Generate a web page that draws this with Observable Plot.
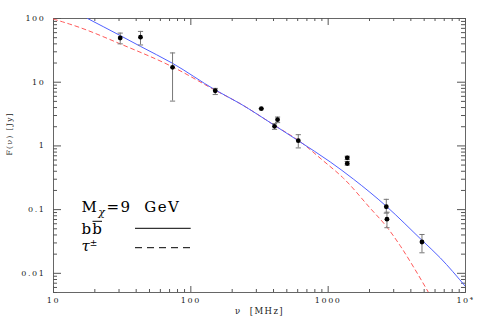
<!DOCTYPE html>
<html>
<head>
<meta charset="utf-8">
<script src="https://cdn.jsdelivr.net/npm/d3@7"></script>
<script src="https://cdn.jsdelivr.net/npm/@observablehq/plot@0.6"></script>
<style>
  html, body { margin: 0; padding: 0; background: #fff; }
  g[aria-label$="tick label"] text { letter-spacing: 1.6px; }
</style>
</head>
<body>
<div id="chart"></div>
<script>
// Observed fluxes (MHz, Jy) with error bounds
const obsFreq = [30.6, 43, 73.6, 150.6, 326, 407, 428, 606, 1377, 1377, 2650, 2680, 4820];
const obsFlux = [49.4, 51, 17.1, 7.34, 3.84, 2.03, 2.58, 1.21, 0.65, 0.53, 0.111, 0.0708, 0.031];
const obsLow  = [40, 38.4, 5.05, 6.4, 3.84, 1.82, 2.32, 0.93, 0.61, 0.50, 0.088, 0.052, 0.021];
const obsHigh = [59, 62.7, 28.8, 8.0, 3.84, 2.24, 2.84, 1.5, 0.69, 0.57, 0.145, 0.091, 0.0407];

// b b-bar model (solid blue)
const bbFreq = [17.7, 30.6, 43, 73.6, 150, 229, 407, 608, 1036, 1531, 2650, 4820, 6550, 10000];
const bbFlux = [100, 54, 36.5, 19.8, 7.6, 4.6, 2.1, 1.2, 0.56, 0.30, 0.113, 0.033, 0.0175, 0.0062];

// tau+- model (dashed red)
const tauFreq = [10, 15.6, 30.6, 73.6, 150, 229, 407, 627, 925, 1294, 2026, 2681, 3350, 4190, 5380];
const tauFlux = [98, 72, 40, 17.4, 7.5, 4.6, 2.1, 1.16, 0.58, 0.31, 0.105, 0.053, 0.027, 0.0125, 0.005];

// Axis ticks
const xTickVals = [10, 100, 1000, 10000];
const xTickLabels = ["10", "100", "1000", "10\u2074"];
const yTickVals = [0.01, 0.1, 1, 10, 100];
const yTickLabels = ["0.01", "0.1", "1", "10", "100"];

const xMinor = [];
for (let k = 1; k <= 3; k++) for (let m = 2; m <= 9; m++) xMinor.push(m * 10 ** k);
const yMinor = [];
for (let k = -3; k <= 1; k++) for (let m = 2; m <= 9; m++) {
  const v = +(m * 10 ** k).toPrecision(3);
  if (v >= 0.005 && v <= 100) yMinor.push(v);
}

const obs = obsFreq.map((f, i) => ({f, v: obsFlux[i], lo: obsLow[i], hi: obsHigh[i]}));
const bb = bbFreq.map((f, i) => ({f, v: bbFlux[i]}));
const tau = tauFreq.map((f, i) => ({f, v: tauFlux[i]}));

const W = 491, H = 327, mL = 53, mR = 26, mT = 18, mB = 35;
const pw = W - mL - mR, ph = H - mT - mB;
const tickColor = "#555";

const capSymbol = {
  draw(ctx) { ctx.moveTo(-2.6, 0); ctx.lineTo(2.6, 0); }
};

const plot = Plot.plot({
  width: W, height: H,
  marginLeft: mL, marginRight: mR, marginTop: mT, marginBottom: mB,
  style: {fontFamily: "DejaVu Serif", fontSize: "8px", background: "white", color: "#222"},
  x: {type: "log", domain: [10, 1e4]},
  y: {type: "log", domain: [0.005, 100]},
  marks: [
    Plot.frame({stroke: "#666", strokeWidth: 1}),
    // inward ticks, all four sides
    Plot.tickY(yTickVals, {y: d => d, insetRight: pw - 8, stroke: tickColor}),
    Plot.tickY(yMinor, {y: d => d, insetRight: pw - 4, stroke: tickColor}),
    Plot.tickY(yTickVals, {y: d => d, insetLeft: pw - 8, stroke: tickColor}),
    Plot.tickY(yMinor, {y: d => d, insetLeft: pw - 4, stroke: tickColor}),
    Plot.tickX(xTickVals, {x: d => d, insetTop: ph - 6, stroke: tickColor}),
    Plot.tickX(xMinor, {x: d => d, insetTop: ph - 3, stroke: tickColor}),
    Plot.tickX(xTickVals, {x: d => d, insetBottom: ph - 7, stroke: tickColor}),
    Plot.tickX(xMinor, {x: d => d, insetBottom: ph - 3, stroke: tickColor}),
    Plot.axisY({anchor: "left", ticks: yTickVals, tickSize: 0, tickPadding: 8,
      tickFormat: d => yTickLabels[yTickVals.indexOf(d)], label: null}),
    Plot.axisX({anchor: "bottom", ticks: xTickVals, tickSize: 0, tickPadding: 5,
      tickFormat: d => xTickLabels[xTickVals.indexOf(d)], label: null}),
    // model curves
    Plot.line(tau, {x: "f", y: "v", stroke: "#ff5a5a", strokeWidth: 1, strokeDasharray: "4,3.5", curve: "monotone-x", clip: true}),
    Plot.line(bb, {x: "f", y: "v", stroke: "#5060ff", strokeWidth: 1, curve: "monotone-x", clip: true}),
    // error bars
    Plot.ruleX(obs, {x: "f", y1: "lo", y2: "hi", stroke: "#777", strokeWidth: 1}),
    Plot.dot(obs, {x: "f", y: "lo", symbol: capSymbol, stroke: "#777", fill: "none", strokeWidth: 1}),
    Plot.dot(obs, {x: "f", y: "hi", symbol: capSymbol, stroke: "#777", fill: "none", strokeWidth: 1}),
    Plot.dot(obs, {x: "f", y: "v", r: 2.4, fill: "black", stroke: "none"}),
    // axis titles
    Plot.text(["\u03bd  [MHz]"], {frameAnchor: "bottom", dy: 21, text: d => d, fontSize: 8.5, fill: "#222"}),
    Plot.text(["F(\u03bd) [Jy]"], {frameAnchor: "left", dx: -44, rotate: -90, text: d => d, fontSize: 7.5, fill: "#222"})
  ]
});

// legend
const svg = d3.select(plot);
svg.selectAll('g[aria-label="text"] text').style("letter-spacing", "1.4px").style("white-space", "pre");
const lg = svg.append("g").attr("font-family", "DejaVu Serif").attr("fill", "black")
  .attr("text-anchor", "start");
const t1 = lg.append("text").attr("x", 81.5).attr("y", 211.7).attr("font-size", 15)
  .style("white-space", "pre").style("letter-spacing", "1.5px");
t1.append("tspan").text("M");
t1.append("tspan").attr("font-size", 11).attr("font-style", "italic").attr("dy", 4).text("\u03c7");
t1.append("tspan").attr("dy", -4).text("=9  GeV");
const t2 = lg.append("text").attr("x", 81.5).attr("y", 233.8).attr("font-size", 15)
  .style("letter-spacing", "1.2px").text("bb");
lg.append("line").attr("x1", 92.5).attr("x2", 102).attr("y1", 221.3).attr("y2", 221.3)
  .attr("stroke", "black").attr("stroke-width", 1);
const t3 = lg.append("text").attr("x", 81.5).attr("y", 250.5).attr("font-size", 15);
t3.append("tspan").attr("font-style", "italic").text("\u03c4");
t3.append("tspan").attr("font-size", 9).attr("dy", -5).text("\u00b1");
lg.append("line").attr("x1", 135).attr("x2", 190.7).attr("y1", 228.3).attr("y2", 228.3)
  .attr("stroke", "black").attr("stroke-width", 1);
lg.append("line").attr("x1", 135).attr("x2", 190.7).attr("y1", 247.7).attr("y2", 247.7)
  .attr("stroke", "black").attr("stroke-width", 1).attr("stroke-dasharray", "7,5");

document.getElementById("chart").append(plot);
</script>
</body>
</html>
